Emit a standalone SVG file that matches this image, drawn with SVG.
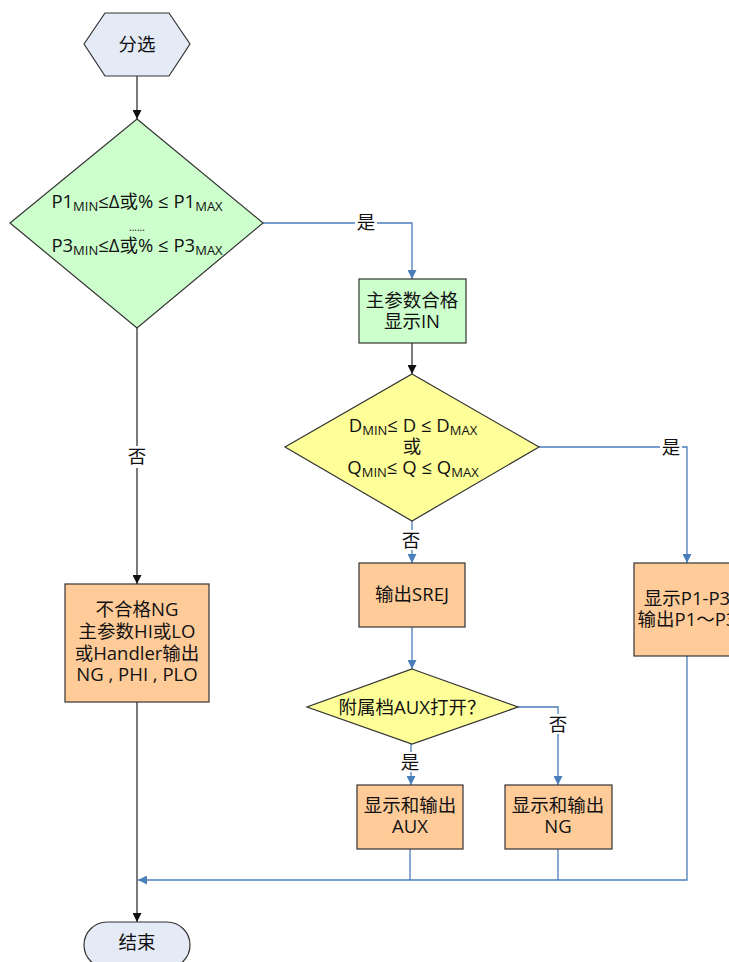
<svg xmlns="http://www.w3.org/2000/svg" width="729" height="962" viewBox="0 0 729 962">
<defs>
<style>
text{font-family:"Open Sans","Noto Sans CJK SC",sans-serif;font-size:18.5px;fill:#111;text-anchor:middle}
.sub{font-size:13px}
.node{stroke:#333;stroke-width:1.2}
.blue{fill:none;stroke:#4a7ebb;stroke-width:1.3}
.dark{fill:none;stroke:#222;stroke-width:1.2}
.lbl{fill:#fff;stroke:none}
</style>
<marker id="ab" viewBox="0 0 10 10" refX="10" refY="5" markerWidth="9" markerHeight="9" markerUnits="userSpaceOnUse" orient="auto"><path d="M0,0 L10,5 L0,10 z" fill="#4a7ebb"/></marker>
<marker id="ak" viewBox="0 0 10 10" refX="10" refY="5" markerWidth="9" markerHeight="9" markerUnits="userSpaceOnUse" orient="auto"><path d="M0,0 L10,5 L0,10 z" fill="#111"/></marker>
</defs>
<rect width="729" height="962" fill="#fff"/>
<g id="connectors">
<path class="dark" d="M137,76 V119" marker-end="url(#ak)"/>
<path class="dark" d="M137,328 V584" marker-end="url(#ak)"/>
<path class="dark" d="M137,702 V922" marker-end="url(#ak)"/>
<path class="blue" d="M263,223 H412 V279" marker-end="url(#ab)"/>
<path class="dark" d="M412,343 V374" marker-end="url(#ak)"/>
<path class="blue" d="M539,447 H687 V563" marker-end="url(#ab)"/>
<path class="blue" d="M412,521 V563" marker-end="url(#ab)"/>
<path class="blue" d="M412,627 V669" marker-end="url(#ab)"/>
<path class="blue" d="M518,707 H558 V785" marker-end="url(#ab)"/>
<path class="blue" d="M411,744 V785" marker-end="url(#ab)"/>
<path class="blue" d="M410,849 V880"/>
<path class="blue" d="M558,849 V880"/>
<path class="blue" d="M687,656 V880 H138" marker-end="url(#ab)"/>
<rect class="lbl" x="355" y="212" width="22" height="20"/>
<text x="366" y="229">是</text>
<rect class="lbl" x="126" y="446" width="22" height="22"/>
<text x="137" y="463">否</text>
<rect class="lbl" x="660" y="437" width="22" height="20"/>
<text x="671" y="454">是</text>
<rect class="lbl" x="400" y="530" width="22" height="20"/>
<text x="411" y="547">否</text>
<rect class="lbl" x="547" y="714" width="22" height="20"/>
<text x="558" y="731">否</text>
<rect class="lbl" x="399" y="752" width="22" height="20"/>
<text x="410" y="769">是</text>
</g>
<g id="start">
<polygon class="node" points="84,44 105,13 169,13 190,44 169,76 105,76" fill="#e4ebf6"/>
<text x="137" y="51">分选</text>
</g>
<g id="check1">
<polygon class="node" points="137,119 263,223 137,328 10,223" fill="#ccffcc"/>
<text x="137" y="208">P1<tspan class="sub" dy="3">MIN</tspan><tspan dy="-3">≤Δ或% ≤ P1</tspan><tspan class="sub" dy="3">MAX</tspan></text>
<text x="137" y="231" style="font-size:10px">......</text>
<text x="137" y="252">P3<tspan class="sub" dy="3">MIN</tspan><tspan dy="-3">≤Δ或% ≤ P3</tspan><tspan class="sub" dy="3">MAX</tspan></text>
</g>
<g id="pass">
<rect class="node" x="359" y="279" width="107" height="64" fill="#ccffcc"/>
<text x="412" y="307">主参数合格</text>
<text x="412" y="328">显示IN</text>
</g>
<g id="check2">
<polygon class="node" points="412,374 539,447 412,521 285,447" fill="#ffff99"/>
<text x="413" y="432">D<tspan class="sub" dy="3">MIN</tspan><tspan dy="-3">≤ D ≤ D</tspan><tspan class="sub" dy="3">MAX</tspan></text>
<text x="412" y="453">或</text>
<text x="413" y="474">Q<tspan class="sub" dy="3">MIN</tspan><tspan dy="-3">≤ Q ≤ Q</tspan><tspan class="sub" dy="3">MAX</tspan></text>
</g>
<g id="showP">
<rect class="node" x="634" y="563" width="106" height="93" fill="#ffcc99"/>
<text x="687" y="605">显示P1-P3</text>
<text x="687" y="626">输出P1～P3</text>
</g>
<g id="srej">
<rect class="node" x="359" y="563" width="106" height="64" fill="#ffcc99"/>
<text x="412" y="601">输出SREJ</text>
</g>
<g id="aux">
<polygon class="node" points="412,669 518,707 412,744 307,707" fill="#ffff99"/>
<text x="412" y="714">附属档AUX打开？</text>
</g>
<g id="showAUX">
<rect class="node" x="357" y="785" width="106" height="64" fill="#ffcc99"/>
<text x="410" y="812">显示和输出</text>
<text x="410" y="833">AUX</text>
</g>
<g id="showNG">
<rect class="node" x="505" y="785" width="107" height="64" fill="#ffcc99"/>
<text x="558" y="812">显示和输出</text>
<text x="558" y="833">NG</text>
</g>
<g id="fail">
<rect class="node" x="65" y="584" width="144" height="118" fill="#ffcc99"/>
<text x="137" y="616">不合格NG</text>
<text x="137" y="638">主参数HI或LO</text>
<text x="137" y="660">或Handler输出</text>
<text x="137" y="681">NG , PHI , PLO</text>
</g>
<g id="end">
<rect class="node" x="84" y="922" width="106" height="46" rx="23" fill="#e4ebf6"/>
<text x="137" y="949">结束</text>
</g>
</svg>
